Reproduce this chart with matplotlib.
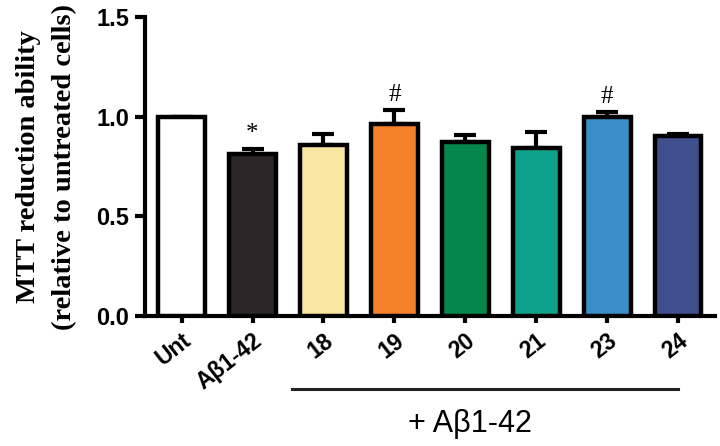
"""
MTT reduction bar chart with Abeta1-42 treatment groups.
"""
import numpy as np
import matplotlib.pyplot as plt
from matplotlib.transforms import blended_transform_factory

#### Data
groups = ['Unt', 'A\u03b21-42', '18', '19', '20', '21', '23', '24']
means = [1.00, 0.813, 0.858, 0.963, 0.873, 0.843, 0.998, 0.903]
errors = [0.0, 0.025, 0.055, 0.07, 0.035, 0.08, 0.025, 0.012]
marks = ['', '*', '', '#', '', '', '#', '']
colors = ['#ffffff', '#2b2627', '#f9e6a1', '#f6812b', '#05864b',
          '#0ea18c', '#3a8fc8', '#3f4f8e']

x_pos = np.arange(len(groups))

#### Figure
fig = plt.figure(figsize=(7.2, 4.46), dpi=100, facecolor='white')
ax = fig.add_axes([0.201, 0.291, 0.792, 0.671])

ax.bar(x_pos, means, width=0.66, color=colors, edgecolor='black',
       linewidth=3.2, zorder=3)
ax.errorbar(x_pos, means, yerr=[np.zeros(len(means)), errors], fmt='none',
            ecolor='black', elinewidth=3, capsize=8, capthick=3, zorder=2)

# significance marks
for xp, m, e, s in zip(x_pos, means, errors, marks):
    if s:
        ax.text(xp, m + e + 0.02, s, ha='center', va='bottom',
                family='Liberation Serif', fontsize=18)

#### Axes styling
ax.set_xlim(-0.52, 7.52)
ax.set_ylim(0, 1.5)
for side in ['top', 'right']:
    ax.spines[side].set_visible(False)
for side in ['left', 'bottom']:
    ax.spines[side].set_linewidth(3)

ax.set_yticks([0.0, 0.5, 1.0, 1.5])
ax.set_yticklabels(['0.0', '0.5', '1.0', '1.5'], fontsize=17,
                   fontweight='bold', family='Liberation Sans')
ax.tick_params(axis='y', length=7, width=3, pad=4)
ax.tick_params(axis='x', length=5, width=3, pad=4)

ax.set_xticks(x_pos)
ax.set_xticklabels(groups, rotation=38, ha='right', rotation_mode='anchor',
                   fontsize=16.5, fontweight='bold', family='Liberation Sans')

ax.set_ylabel('MTT reduction ability\n(relative to untreated cells)',
              family='Liberation Serif', fontweight='bold', fontsize=20.5,
              linespacing=1.6, labelpad=14)

#### Bracket under the treated groups
trans = blended_transform_factory(ax.transData, ax.transAxes)
ax.plot([1.55, 7.0], [-0.244, -0.244], color='#222222', lw=2.2,
        transform=trans, clip_on=False)
ax.text(4.07, -0.31, '+ A\u03b21-42', transform=trans, ha='center',
        va='top', fontsize=22, family='Liberation Sans')

plt.savefig('out.png', dpi=100, facecolor='white')
